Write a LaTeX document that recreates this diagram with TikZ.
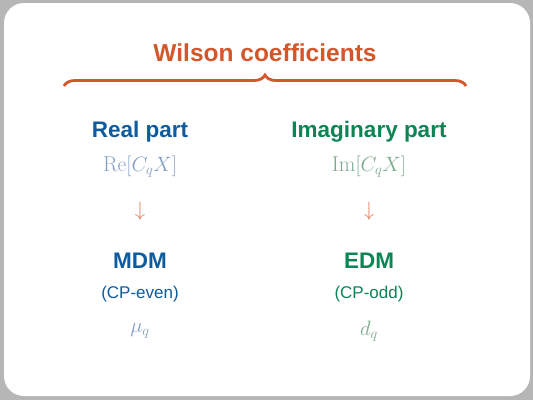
\documentclass[tikz,border=0pt]{standalone}
\usepackage{fontspec}
\newfontfamily\wcsans{Liberation Sans}
\usetikzlibrary{positioning, decorations.pathreplacing, calc}
\definecolor{wcorange}{RGB}{212,86,43}
\definecolor{wcblue}{RGB}{14,92,160}
\definecolor{wcgreen}{RGB}{12,133,84}
\definecolor{wcpaleblue}{RGB}{132,160,198}
\definecolor{wcpalegreen}{RGB}{122,172,140}
\definecolor{wcgray}{RGB}{182,182,182}

\begin{document}
\begin{tikzpicture}[x=1pt,y=-1pt,
  title/.style={font=\wcsans\bfseries\fontsize{24.5}{28}\selectfont,text=wcorange},
  head/.style={font=\wcsans\bfseries\fontsize{22.5}{26}\selectfont},
  cp/.style={font=\wcsans\fontsize{17}{20}\selectfont},
  mth/.style={font=\fontsize{21.5}{24}\selectfont},
  down/.style={font=\fontsize{22}{26}\selectfont,text=wcorange!75},
  brc/.style={wcorange,line width=2.8pt,decorate,
              decoration={brace,amplitude=11pt}}
]
\useasboundingbox (0,0) rectangle (533,400);
\fill[wcgray] (0,0) rectangle (533,400);
\fill[white,rounded corners=20pt] (4,3) rectangle (530,396);

% ── title ───────────────────────────────────────────────
\node[title] (wil) at (265,53) {Wilson coefficients};
\coordinate (bl) at (64,86);
\coordinate (br) at (466,86);
\draw[brc] (bl)--(br);

% ── real part ───────────────────────────────────────────
\node[head,text=wcblue] (real) at (140,132) {Real part};
\node[mth,text=wcpaleblue] (re) at (140,167) {$\mathrm{Re}[C_qX]$};
\node[down] (ar1) at (140,211) {$\downarrow$};
\node[head,text=wcblue] (mdm) at (140,261) {MDM};
\node[cp,text=wcblue] (even) at (140,294) {(CP-even)};
\node[mth,text=wcpaleblue] (mu) at (140,331) {$\mu_q$};

% ── imaginary part ──────────────────────────────────────
\node[head,text=wcgreen] (imag) at (369,132) {Imaginary part};
\node[mth,text=wcpalegreen] (im) at (369,167) {$\mathrm{Im}[C_qX]$};
\node[down] (ar2) at (369,211) {$\downarrow$};
\node[head,text=wcgreen] (edm) at (369,261) {EDM};
\node[cp,text=wcgreen] (odd) at (369,294) {(CP-odd)};
\node[mth,text=wcpalegreen] (dq) at (369,331) {$d_q$};

\end{tikzpicture}
\end{document}
